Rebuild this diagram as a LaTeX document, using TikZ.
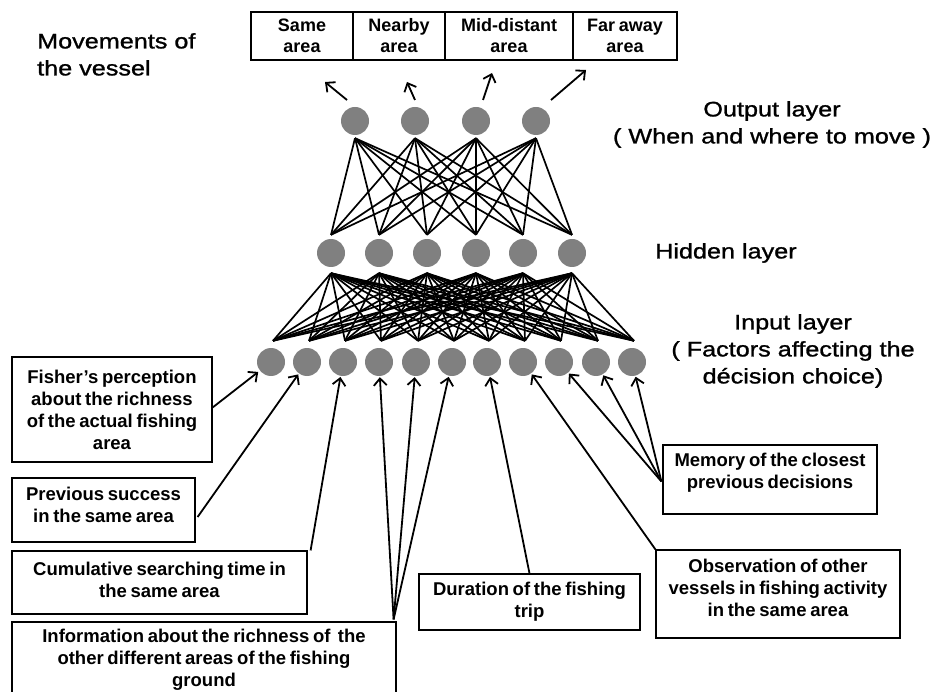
\documentclass[tikz,border=0pt]{standalone}
\usepackage{fontspec}
\setmainfont{Liberation Sans}
\newfontfamily\widefont[FakeStretch=1.2,FakeBold=1.2]{Liberation Sans}
\usetikzlibrary{arrows.meta,calc}
\definecolor{ngray}{RGB}{128,128,128}
\protected\def\tightsp{\spaceskip=0.2em plus 0.05em\relax}
\tikzset{
  neuron/.style={circle, fill=ngray, minimum size=28pt, inner sep=0pt},
  wire/.style={line width=1.7pt},
  arr/.style={line width=1.8pt, -{Straight Barb[length=7pt,width=13pt,line width=1.8pt]}},
  fbox/.style={draw, line width=1.2pt, align=center, inner sep=0pt,
    font=\bfseries\fontsize{18.5}{22}\selectfont\tightsp},
  cell/.style={draw, line width=1.2pt, align=center, inner sep=0pt, minimum height=48pt,
    font=\bfseries\fontsize{18}{21}\selectfont\tightsp},
  lab/.style={align=center, inner sep=0pt, font=\widefont\fontsize{21}{27}\selectfont},
}
\begin{document}
\begin{tikzpicture}[x=1pt,y=-1pt]
\useasboundingbox (0,0) rectangle (931,692);

% output boxes
\node[cell, minimum width=102pt] (c1) at (302,36) {Same\\area};
\node[cell, minimum width=92pt]  (c2) at (399,36) {Nearby\\area};
\node[cell, minimum width=128pt] (c3) at (509,36) {Mid-distant\\area};
\node[cell, minimum width=104pt] (c4) at (625,36) {Far away\\area};

% labels
\node[lab, align=left, anchor=north west] (mv) at (37,33) {Movements of\\the vessel};
\node[lab, anchor=north] (outl) at (772,101) {Output layer\\( When and where to move )};
\node[lab, anchor=north west] (hidl) at (655,243) {Hidden layer};
\node[lab, anchor=north] (inl) at (793,314) {Input layer\\( Factors affecting the\\décision choice)};

% neurons
\foreach \x [count=\k] in {355,415,476,536} \node[neuron] (o\k) at (\x,121) {};
\foreach \x [count=\k] in {331,379,427,476,523,572} \node[neuron] (h\k) at (\x,253) {};
\foreach \x [count=\k] in {271,307,343,379,416,452,487,523,559,596,632} \node[neuron] (i\k) at (\x,362) {};

% network connections
\foreach \a in {1,...,4}
  \foreach \b in {1,...,6}
    \draw[wire] ($(o\a.south)+(0,3)$) -- ($(h\b.north)+(0,-4)$);
\foreach \a in {1,...,6}
  \foreach \b in {1,...,11}
    \draw[wire] ($(h\a.south)+(0,6)$) -- ($(i\b.north)+(2,-7)$);

% output arrows
\coordinate (os1) at ($(o1)+(-8,-21)$);  \coordinate (t1) at (325,82);
\coordinate (os2) at ($(o2)+(0,-21)$);   \coordinate (t2) at (407,82);
\coordinate (os3) at ($(o3)+(7,-21)$);   \coordinate (t3) at (492,73);
\coordinate (os4) at ($(o4)+(15,-21)$);  \coordinate (t4) at (586,70);
\foreach \k in {1,...,4} \draw[arr] (os\k) -- (t\k);

% factor boxes
\node[fbox, minimum width=200pt, minimum height=105pt] (fis) at (112,409.5)
  {Fisher’s perception\\about the richness\\of the actual fishing\\area};
\node[fbox, minimum width=183pt, minimum height=64pt, text depth=10pt] (prev) at (103.5,510)
  {Previous success\\in the same area};
\node[fbox, minimum width=295pt, minimum height=63pt, text depth=6pt] (cum) at (159.5,582.5)
  {Cumulative searching time in\\the same area};
\node[fbox, minimum width=384pt, minimum height=90pt, text depth=18pt] (info) at (204,667)
  {Information about the richness of \ the\\other different areas of the fishing\\ground};
\node[fbox, minimum width=221pt, minimum height=56pt] (dur) at (529.5,602)
  {Duration of the fishing\\trip};
\node[fbox, minimum width=244pt, minimum height=88pt, text depth=12pt] (obs) at (778,594)
  {Observation of other\\vessels in fishing activity\\in the same area};
\node[fbox, minimum width=214pt, minimum height=69pt, text depth=18pt] (mem) at (770,479.5)
  {Memory of the closest\\previous decisions};

% factor arrows
\draw[arr, shorten >=2pt] ($(fis.east)+(0,-2)$) -- (i1);
\draw[arr, shorten >=1pt] ($(prev.east)+(2,7)$) -- (i2);
\draw[arr, shorten >=1pt] ($(cum.north east)+(3,0)$) -- (i3);
\foreach \k in {4,5,6} \draw[arr, shorten >=1pt] ($(info.north east)+(-3,-2)$) -- (i\k);
\draw[arr, shorten >=1pt] (dur.north) -- (i7);
\draw[arr, shorten >=1pt] (obs.north west) -- (i8);
\foreach \k in {9,10,11} \draw[arr, shorten >=1pt] ($(mem.west)+(-1,2)$) -- (i\k);
\end{tikzpicture}
\end{document}
